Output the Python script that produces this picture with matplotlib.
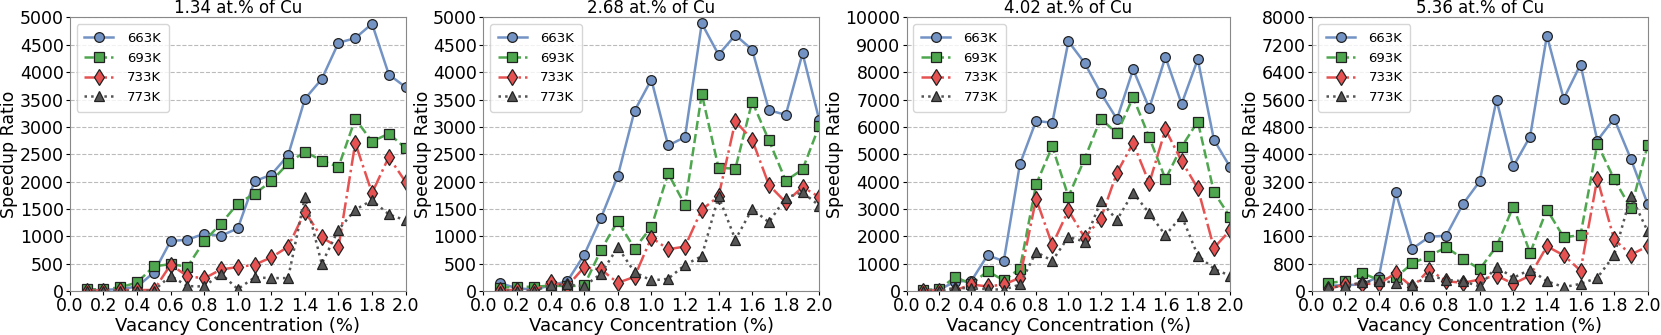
import numpy as np
import matplotlib
matplotlib.use("Agg")
import matplotlib.pyplot as plt

# vacancy concentration (%)
vacancy = [0.1, 0.2, 0.3, 0.4, 0.5, 0.6, 0.7, 0.8, 0.9, 1.0,
           1.1, 1.2, 1.3, 1.4, 1.5, 1.6, 1.7, 1.8, 1.9, 2.0]

temps = ["663K", "693K", "733K", "773K"]
titles = ["1.34 at.% of Cu", "2.68 at.% of Cu", "4.02 at.% of Cu", "5.36 at.% of Cu"]

# 1.34 at.% Cu
cu134_663 = [20, 20, 40, 80, 340, 915, 939, 1049, 1012, 1146, 2006, 2128, 2482, 3512, 3872, 4537, 4622, 4884, 3957, 3726]
cu134_693 = [30, 37, 67, 159, 451, 494, 445, 915, 1232, 1598, 1780, 2006, 2335, 2549, 2384, 2268, 3146, 2732, 2878, 2610]
cu134_733 = [10, 10, 20, 20, 20, 482, 274, 232, 396, 439, 482, 616, 811, 1451, 982, 799, 2707, 1793, 2451, 1994]
cu134_773 = [5, 5, 5, 5, 10, 280, 91, 85, 317, 37, 250, 238, 238, 1720, 500, 1122, 1488, 1659, 1402, 1293]

# 2.68 at.% Cu
cu268_663 = [146, 50, 30, 100, 182, 662, 1337, 2102, 3293, 3864, 2661, 2813, 4890, 4319, 4678, 4410, 3305, 3220, 4344, 3117]
cu268_693 = [60, 79, 79, 100, 90, 103, 747, 1282, 778, 1172, 2150, 1573, 3602, 2254, 2236, 3463, 2752, 2017, 2223, 3025]
cu268_733 = [20, 20, 10, 164, 91, 437, 395, 152, 261, 978, 765, 814, 1488, 1731, 3104, 2766, 1938, 1622, 1902, 1719]
cu268_773 = [10, 5, 5, 103, 121, 91, 316, 802, 346, 194, 225, 480, 638, 1731, 942, 1500, 1258, 1707, 1804, 1561]

# 4.02 at.% Cu
cu402_663 = [30, 50, 350, 377, 1312, 1093, 4641, 6221, 6149, 9125, 8335, 7241, 6282, 8104, 6683, 8554, 6840, 8469, 5528, 4532]
cu402_693 = [50, 60, 522, 250, 729, 389, 826, 3900, 5285, 3451, 4836, 6306, 5759, 7084, 5613, 4094, 5273, 6197, 3609, 2709]
cu402_733 = [20, 20, 30, 243, 170, 243, 486, 3378, 1689, 2953, 1956, 2649, 4326, 5407, 3949, 5905, 4751, 3755, 1580, 2224]
cu402_773 = [10, 10, 122, 97, 73, 49, 243, 1434, 1106, 1981, 1810, 3281, 2600, 3597, 2843, 2041, 2746, 1300, 814, 559]

# 5.36 at.% Cu
cu536_663 = [155, 175, 194, 427, 2890, 1241, 1590, 1619, 2541, 3210, 5585, 3646, 4519, 7467, 5624, 6623, 4402, 5042, 3859, 2541]
cu536_693 = [233, 301, 524, 330, 400, 815, 1028, 1280, 950, 640, 1309, 2473, 1115, 2385, 1571, 1639, 4305, 3278, 2415, 4267]
cu536_733 = [68, 194, 213, 213, 524, 116, 630, 291, 242, 339, 456, 213, 456, 1309, 1047, 601, 3287, 1513, 1067, 1309]
cu536_773 = [116, 136, 262, 310, 242, 175, 456, 330, 291, 136, 718, 388, 630, 291, 116, 213, 388, 1047, 2793, 1745]

panels = [
    [cu134_663, cu134_693, cu134_733, cu134_773],
    [cu268_663, cu268_693, cu268_733, cu268_773],
    [cu402_663, cu402_693, cu402_733, cu402_773],
    [cu536_663, cu536_693, cu536_733, cu536_773],
]
ymax = [5000, 5000, 10000, 8000]
ystep = [500, 500, 1000, 800]

colors = ["#7393c4", "#4ea64e", "#e65252", "#555555"]
markers = ["o", "s", "d", "^"]
styles = ["-", "--", "-.", ":"]

fig = plt.figure(figsize=(16.61, 3.35), dpi=100)
rects = [
    [0.0421, 0.131, 0.2021, 0.817],
    [0.2910, 0.131, 0.2023, 0.817],
    [0.5459, 0.131, 0.1947, 0.817],
    [0.7897, 0.131, 0.2023, 0.817],
]

for i in range(4):
    ax = fig.add_axes(rects[i])
    for j in range(4):
        ax.plot(vacancy, panels[i][j], color=colors[j], linestyle=styles[j],
                marker=markers[j], markersize=7 if markers[j] != "d" else 8,
                markerfacecolor=colors[j], markeredgecolor="#222222",
                markeredgewidth=0.9, linewidth=1.8, label=temps[j])
    ax.set_xlim(0, 2.0)
    ax.set_ylim(0, ymax[i])
    ax.set_xticks(np.arange(0, 2.01, 0.2))
    ax.set_xticklabels([f"{v:.1f}" for v in np.arange(0, 2.01, 0.2)])
    ax.set_yticks(np.arange(0, ymax[i] + 1, ystep[i]))
    ax.tick_params(labelsize=12.5, length=3, pad=1.5)
    ax.yaxis.grid(True, linestyle="--", color="#bbbbbb", linewidth=0.8)
    ax.set_axisbelow(True)
    ax.set_title(titles[i], fontsize=12, pad=3)
    ax.set_xlabel("Vacancy Concentration (%)", fontsize=13, labelpad=1)
    ax.set_ylabel("Speedup Ratio", fontsize=12.5, labelpad=1)
    for s in ax.spines.values():
        s.set_color("#888888")
    ax.legend(loc="upper left", fontsize=9.5, borderpad=0.6, labelspacing=0.5,
              handlelength=2.2, handletextpad=1.0)

plt.savefig("out.png", dpi=100)
